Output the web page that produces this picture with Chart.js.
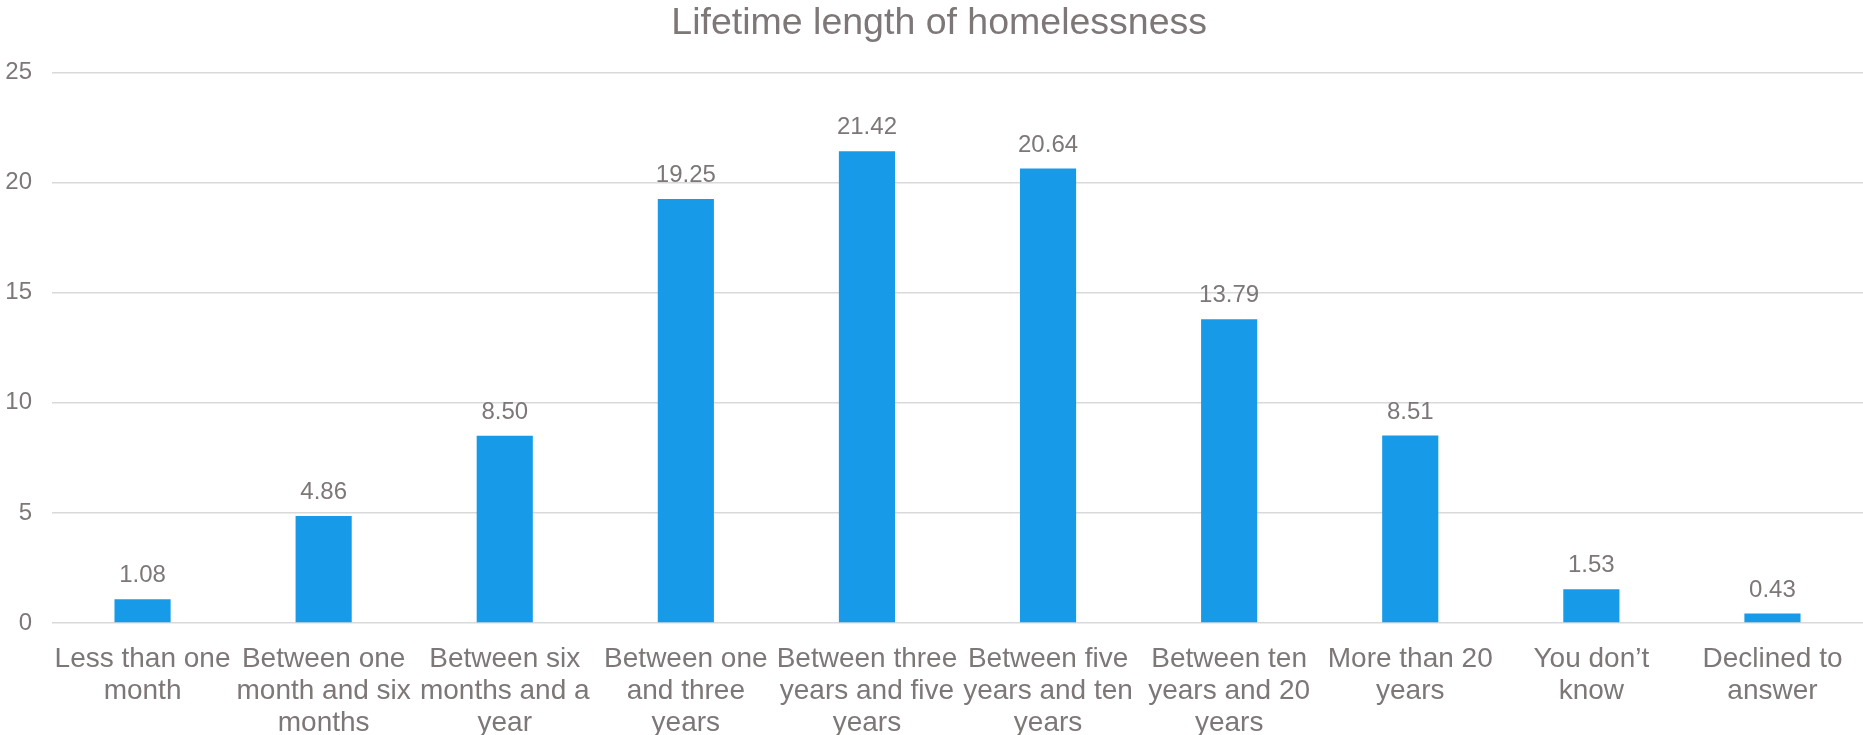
<!DOCTYPE html>
<html>
<head>
<meta charset="utf-8">
<script src="https://cdn.jsdelivr.net/npm/chart.js@4/dist/chart.umd.min.js"></script>
<style>
  html, body { margin: 0; padding: 0; background: #fff; }
  #wrap { width: 1863px; height: 735px; }
</style>
</head>
<body>
<div id="wrap"><canvas id="lengthChart"></canvas></div>
<script>
// categories, wrapped like the original axis labels
const categories = [
    ['Less than one', 'month'],
    ['Between one', 'month and six', 'months'],
    ['Between six', 'months and a', 'year'],
    ['Between one', 'and three', 'years'],
    ['Between three', 'years and five', 'years'],
    ['Between five', 'years and ten', 'years'],
    ['Between ten', 'years and 20', 'years'],
    ['More than 20', 'years'],
    ['You don\u2019t', 'know'],
    ['Declined to', 'answer']
];
const percentValues = [1.08, 4.86, 8.50, 19.25, 21.42, 20.64, 13.79, 8.51, 1.53, 0.43];
const yTicks = [0, 5, 10, 15, 20, 25];

const textGrey = '#7d7777';
const barBlue = '#179be9';
const fontFamily = '"Liberation Sans", Arial, sans-serif';

// value labels above each bar
const valueLabels = {
    id: 'valueLabels',
    afterDatasetsDraw(chart) {
        const ctx = chart.ctx;
        const meta = chart.getDatasetMeta(0);
        ctx.save();
        ctx.font = '24px ' + fontFamily;
        ctx.fillStyle = textGrey;
        ctx.textAlign = 'center';
        ctx.textBaseline = 'alphabetic';
        meta.data.forEach(function (bar, i) {
            ctx.fillText(percentValues[i].toFixed(2), bar.x, bar.y - 17);
        });
        ctx.restore();
    }
};

var ctx = document.getElementById('lengthChart').getContext('2d');
new Chart(ctx, {
    type: 'bar',
    data: {
        labels: categories,
        datasets: [{
            label: 'Lifetime length of homelessness',
            data: percentValues,
            backgroundColor: barBlue,
            borderWidth: 0,
            categoryPercentage: 1,
            barPercentage: 0.31
        }]
    },
    plugins: [valueLabels],
    options: {
        responsive: true,
        maintainAspectRatio: false,
        animation: false,
        layout: { padding: { left: 5, right: 0, top: 0, bottom: 0 } },
        plugins: {
            legend: { display: false },
            tooltip: { enabled: false },
            title: {
                display: true,
                // leading nbsp nudges the centred title a little right, as in the original
                text: '\u00a0Lifetime length of homelessness',
                color: textGrey,
                font: { family: fontFamily, size: 37.5, weight: 'normal', lineHeight: 1 },
                padding: { top: 5, bottom: 30 }
            }
        },
        scales: {
            x: {
                grid: { display: false, drawTicks: false },
                border: { display: false },
                ticks: {
                    color: textGrey,
                    maxRotation: 0,
                    autoSkip: false,
                    padding: 20,
                    font: { family: fontFamily, size: 28, lineHeight: 1.14 }
                },
                afterFit(axis) { axis.height = 112; }
            },
            y: {
                min: 0,
                max: 25,
                afterBuildTicks(axis) {
                    axis.ticks = yTicks.map(function (v) { return { value: v }; });
                },
                grid: { color: '#d9d9d9', lineWidth: 1.5, drawTicks: false },
                border: { display: false },
                ticks: {
                    color: textGrey,
                    padding: 20,
                    font: { family: fontFamily, size: 24 }
                },
                afterFit(axis) { axis.width = 47; }
            }
        }
    }
});
</script>
</body>
</html>
